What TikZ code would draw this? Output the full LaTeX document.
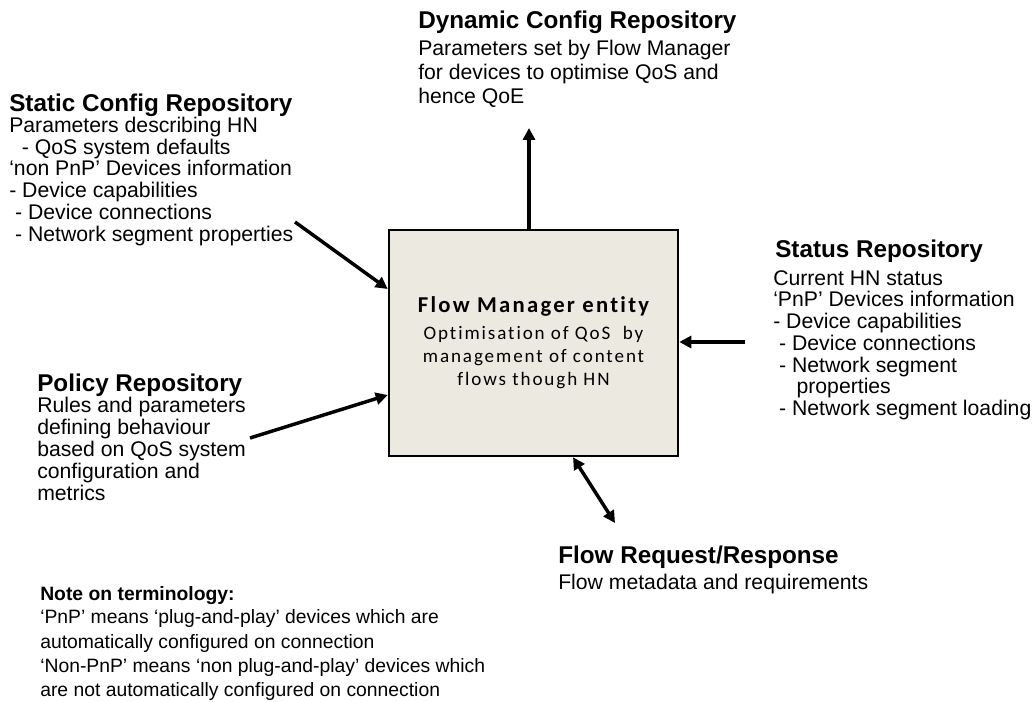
\documentclass[tikz,border=0pt]{standalone}
\usepackage{fontspec}
\setmainfont{Liberation Sans}
\newfontfamily\fmboxfont[LetterSpace=10,Ligatures={NoCommon}]{Carlito}
\usetikzlibrary{arrows.meta}
\definecolor{boxfill}{RGB}{236,233,224}
\tikzset{
  ttl/.style={anchor=north west, inner sep=0pt, font=\fontsize{18.2}{20}\selectfont\bfseries},
  body/.style={anchor=north west, inner sep=0pt, align=left, font=\fontsize{15.9}{#1}\selectfont},
  body/.default={16.3pt},
  arr/.style={line width=2.6pt, -{Triangle[length=9pt,width=9pt]}},
  darr/.style={line width=2.6pt, {Triangle[length=9pt,width=9pt]}-{Triangle[length=9pt,width=9pt]}},
}
\begin{document}
\begin{tikzpicture}[x=0.75pt,y=-0.75pt]
\useasboundingbox (0,0) rectangle (1036,702);

% central box
\node (fm) [draw, line width=1.9pt, fill=boxfill, minimum width=216.75pt, minimum height=169.5pt, inner sep=0pt] at (533.5,343) {};
\node (fmt) [anchor=base, inner sep=0pt, font=\fmboxfont\fontsize{17}{18}\selectfont\bfseries] at (533.5,313) {Flow Manager entity};
\node (fmb) [anchor=north, inner sep=0pt, align=center, font=\fmboxfont\fontsize{14.3}{17.25}\selectfont] at (533.5,326.3) {Optimisation of QoS\ \ by\\management of content\\flows though HN};

% Dynamic config
\node (dyt) [ttl] at (418,11) {Dynamic Config Repository};
\node (dyb) [body=18pt] at (418,39.8) {Parameters set by Flow Manager\\for devices to optimise QoS and\\hence QoE};

% Static config
\node (stt) [ttl] at (9,93.6) {Static Config Repository};
\node (stb) [body=16.3pt] at (9,116.8) {Parameters describing HN\\\hspace*{0.6em}- QoS system defaults\\‘non PnP’ Devices information\\- Device capabilities\\\hspace*{0.28em}- Device connections\\\hspace*{0.28em}- Network segment properties};

% Policy
\node (pot) [ttl] at (37,373.6) {Policy Repository};
\node (pob) [body=16.5pt] at (37,396.8) {Rules and parameters\\defining behaviour\\based on QoS system\\configuration and\\metrics};

% Status
\node (sst) [ttl] at (775,239.5) {Status Repository};
\node (ssb) [body=16.3pt] at (773,270) {Current HN status\\‘PnP’ Devices information\\- Device capabilities\\\hspace*{0.28em}- Device connections\\\hspace*{0.28em}- Network segment\\\hspace*{1.1em}properties\\\hspace*{0.28em}- Network segment loading};

% Flow request
\node (frt) [ttl] at (558,545.6) {Flow Request/Response};
\node (frb) [body] at (558,573.8) {Flow metadata and requirements};

% Note
\node (nt) [anchor=north west, inner sep=0pt, font=\fontsize{14.5}{16}\selectfont\bfseries] at (40,586.5) {Note on terminology:};
\node (nb) [anchor=north west, inner sep=0pt, align=left, font=\fontsize{14.5}{18.2}\selectfont] at (40,609.6) {‘PnP’ means ‘plug-and-play’ devices which are\\automatically configured on connection\\‘Non-PnP’ means ‘non plug-and-play’ devices which\\are not automatically configured on connection};

% connectors
\coordinate (dyEnd) at (529,128);
\coordinate (stStart) at (295,222);
\coordinate (poStart) at (250,438);
\coordinate (ssStart) at (745,342);
\coordinate (frEnd) at (615,523);

\draw[arr] (fm.north -| dyEnd) -- (dyEnd);
\draw[arr] (stStart) -- (fm.west |- 0,289);
\draw[arr] (poStart) -- (fm.west |- 0,395);
\draw[arr] (ssStart) -- (fm.east |- ssStart);
\draw[darr] (fm.south -| 573,0) -- (frEnd);
\end{tikzpicture}
\end{document}
